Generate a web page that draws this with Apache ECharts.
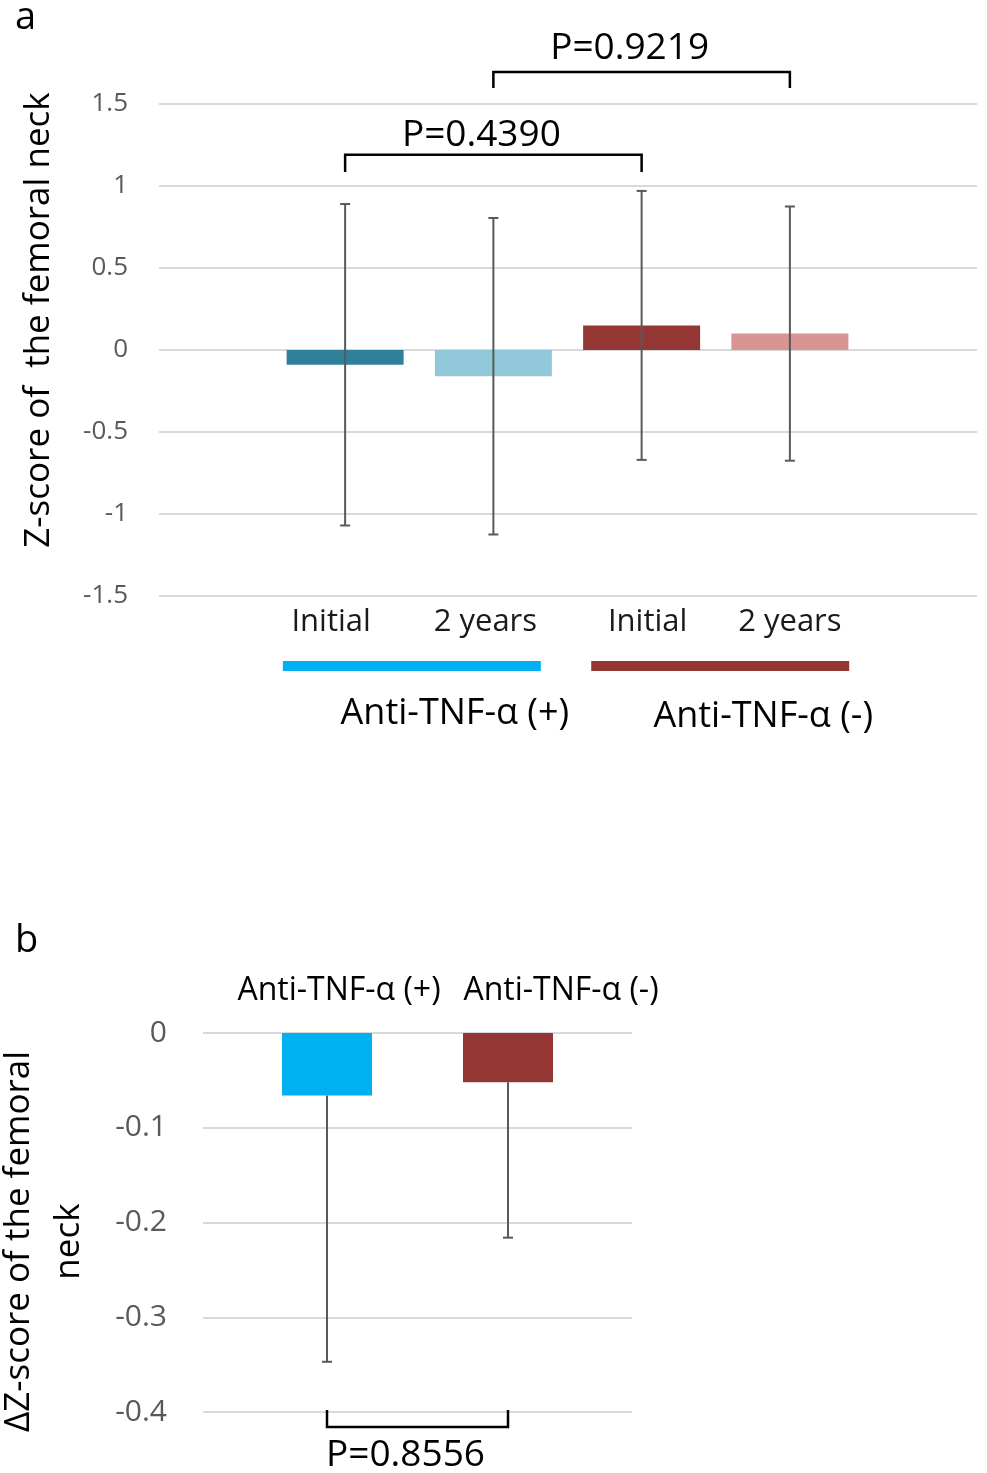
<!DOCTYPE html>
<html><head><meta charset="utf-8">
<script src="https://cdn.jsdelivr.net/npm/echarts@6/dist/echarts.min.js"></script>
<style>html,body{margin:0;padding:0;background:#fff}#c{width:987px;height:1473px}</style>
</head><body><div id="c"></div>
<script>
// ---------- data: panel a ----------
const zCategories = ['Initial', '2 years', 'Initial', '2 years'];
const zMeans = [-0.09, -0.16, 0.15, 0.10];
const zSD = [0.98, 0.965, 0.82, 0.775];
const zGroups = ['Anti-TNF-α (+)', 'Anti-TNF-α (-)'];
const zGroupSpans = [[0, 1], [2, 3]];
const zTests = [{ from: 0, to: 2, p: 'P=0.4390' }, { from: 1, to: 3, p: 'P=0.9219' }];
const zTicks = { min: -1.5, max: 1.5, step: 0.5 };
// ---------- data: panel b ----------
const dCategories = ['Anti-TNF-α (+)', 'Anti-TNF-α (-)'];
const dMeans = [-0.066, -0.052];
const dSD = [0.281, 0.164];
const dTests = [{ from: 0, to: 1, p: 'P=0.8556' }];
const dTicks = { min: -0.4, max: 0, step: 0.1 };

// ---------- styles ----------
const FONT = 'Open Sans';
const zColors = ['#2e8198', '#92c9da', '#943634', '#d99594'];
const dColors = ['#00b0f0', '#943634'];
const groupColors = ['#00b0f0', '#943634'];
const groupLineExt = [[-0.42, 0.32], [-0.34, 0.40]];
const zLabelPad = [[0, 28, 0, 0], [0, 16, 0, 0], [0, 0, 0, 12], [0, 0, 0, 0]];
const errColor = '#595959';
const gridColor = '#d9d9d9';
// bracket geometry in data units
const zBracketGeom = [{ bar: 1.19, tick: 1.085, text: 1.31, dx: -12 }, { bar: 1.695, tick: 1.598, text: 1.84, dx: -12 }];
const dBracketGeom = [{ bar: -0.4158, tick: -0.398, text: -0.4454, dx: -12 }];

const chart = echarts.init(document.getElementById('c'), null, { renderer: 'canvas' });

function errRender(showUpper) {
  return function (params, api) {
    const x = api.value(0), lo = api.value(1), hi = api.value(2);
    const a = api.coord([x, hi]), b = api.coord([x, lo]);
    const cap = 5;
    const ch = [
      { type: 'line', shape: { x1: a[0], y1: a[1], x2: b[0], y2: b[1] }, style: { stroke: errColor, lineWidth: 2 } },
      { type: 'line', shape: { x1: b[0] - cap, y1: b[1], x2: b[0] + cap, y2: b[1] }, style: { stroke: errColor, lineWidth: 2 } }
    ];
    if (showUpper) ch.push({ type: 'line', shape: { x1: a[0] - cap, y1: a[1], x2: a[0] + cap, y2: a[1] }, style: { stroke: errColor, lineWidth: 2 } });
    return { type: 'group', children: ch };
  };
}
function bracketRender(geoms, tests) {
  return function (params, api) {
    const t = tests[params.dataIndex], g = geoms[params.dataIndex];
    const l = api.coord([t.from, g.bar]), r = api.coord([t.to, g.bar]);
    const lt = api.coord([t.from, g.tick]);
    const ty = api.coord([t.from, g.text])[1];
    const st = { stroke: '#000', lineWidth: 2.5, fill: null };
    return { type: 'group', children: [
      { type: 'polyline', shape: { points: [[l[0], lt[1]], [l[0], l[1]], [r[0], r[1]], [r[0], lt[1]]] }, style: st },
      { type: 'text', x: (l[0] + r[0]) / 2 + g.dx, y: ty, style: { text: t.p, font: '37px "' + FONT + '"', fill: '#000', align: 'center', verticalAlign: 'middle' } }
    ] };
  };
}

const zRich = {};
zLabelPad.forEach((p, i) => { zRich['l' + i] = { padding: p, fontFamily: FONT, fontSize: 31, color: '#1a1a1a' }; });

const option = {
  animation: false,
  backgroundColor: '#fff',
  graphic: [
    { type: 'text', left: 15, top: -1, style: { text: 'a', font: '38px "' + FONT + '"', fill: '#000' } },
    { type: 'text', left: 15, top: 922, style: { text: 'b', font: '38px "' + FONT + '"', fill: '#000' } }
  ],
  grid: [
    { left: 159, width: 818, top: 104, height: 492, outerBoundsMode: 'none' },
    { left: 271, width: 593, top: 104, height: 492, outerBoundsMode: 'none' },
    { left: 203, width: 429, top: 1033, height: 379, outerBoundsMode: 'none' },
    { left: 236.5, width: 362, top: 1033, height: 379, outerBoundsMode: 'none' }
  ],
  xAxis: [
    { gridIndex: 0, type: 'category', data: [''], show: false },
    { gridIndex: 1, type: 'category', data: zCategories, axisLine: { show: false }, axisTick: { show: false },
      axisLabel: { interval: 0, hideOverlap: false, fontFamily: FONT, fontSize: 31, color: '#1a1a1a', margin: 11,
        formatter: (v, i) => '{l' + i + '|' + v + '}', rich: zRich } },
    { gridIndex: 2, type: 'category', data: [''], show: false },
    { gridIndex: 3, type: 'category', data: dCategories, position: 'top', axisLine: { show: false }, axisTick: { show: false },
      axisLabel: { interval: 0, hideOverlap: false, fontFamily: FONT, fontSize: 32, color: '#000', margin: 26,
        formatter: (v, i) => '{l' + i + '|' + v + '}',
        rich: { l0: { padding: [0, 0, 0, 24], fontFamily: FONT, fontSize: 32, color: '#000' }, l1: { padding: [0, 0, 0, 106], fontFamily: FONT, fontSize: 32, color: '#000' } } } }
  ],
  yAxis: [
    { gridIndex: 0, type: 'value', min: zTicks.min, max: zTicks.max, interval: zTicks.step,
      axisLine: { show: false }, axisTick: { show: false },
      axisLabel: { fontFamily: FONT, fontSize: 26, color: '#595959', margin: 31 },
      splitLine: { lineStyle: { color: gridColor, width: 2 } },
      name: 'Z-score of  the femoral neck', nameLocation: 'middle', nameRotate: 90, nameGap: 102,
      nameTextStyle: { fontFamily: FONT, fontSize: 35, color: '#000', padding: [0, 0, 0, 60] } },
    { gridIndex: 1, type: 'value', min: zTicks.min, max: zTicks.max, interval: zTicks.step, show: false, splitLine: { show: false } },
    { gridIndex: 2, type: 'value', min: dTicks.min, max: dTicks.max, interval: dTicks.step,
      axisLine: { show: false }, axisTick: { show: false },
      axisLabel: { fontFamily: FONT, fontSize: 30, color: '#595959', margin: 36 },
      splitLine: { lineStyle: { color: gridColor, width: 2 } },
      name: 'ΔZ-score of the femoral\nneck', nameLocation: 'middle', nameRotate: 90, nameGap: 109,
      nameTextStyle: { fontFamily: FONT, fontSize: 35, color: '#000', lineHeight: 50, align: 'center', padding: [0, 38, 0, 0] } },
    { gridIndex: 3, type: 'value', min: dTicks.min, max: dTicks.max, interval: dTicks.step, show: false, splitLine: { show: false } }
  ],
  series: [
    { type: 'bar', xAxisIndex: 1, yAxisIndex: 1, barWidth: 117,
      data: zMeans.map((v, i) => ({ value: v, itemStyle: { color: zColors[i] } })) },
    { type: 'custom', xAxisIndex: 1, yAxisIndex: 1, z: 5, renderItem: errRender(true),
      data: zMeans.map((m, i) => [i, m - zSD[i], m + zSD[i]]) },
    { type: 'custom', xAxisIndex: 1, yAxisIndex: 1, z: 5, clip: false, renderItem: bracketRender(zBracketGeom, zTests),
      data: zTests.map(t => [t.from, t.to]) },
    { type: 'custom', xAxisIndex: 1, yAxisIndex: 1, z: 5, clip: false,
      renderItem: function (params, api) {
        const i = params.dataIndex;
        const s0 = api.value(0), s1 = api.value(1);
        const p0 = api.coord([s0, zTicks.min]), p1 = api.coord([s1, zTicks.min]);
        const band = api.size([1, 0])[0];
        const x1 = p0[0] + groupLineExt[i][0] * band, x2 = p1[0] + groupLineExt[i][1] * band;
        return { type: 'group', children: [
          { type: 'rect', shape: { x: x1, y: p0[1] + 65, width: x2 - x1, height: 10 }, style: { fill: groupColors[i] } },
          { type: 'text', x: (x1 + x2) / 2 + 43, y: p0[1] + 118 + i * 3,
            style: { text: zGroups[i], font: '36px "' + FONT + '"', fill: '#000', align: 'center', verticalAlign: 'middle' } }
        ] };
      },
      data: zGroupSpans },
    { type: 'bar', xAxisIndex: 3, yAxisIndex: 3, barWidth: 90,
      data: dMeans.map((v, i) => ({ value: v, itemStyle: { color: dColors[i] } })) },
    { type: 'custom', xAxisIndex: 3, yAxisIndex: 3, z: 5, renderItem: errRender(false),
      data: dMeans.map((m, i) => [i, m - dSD[i], m]) },
    { type: 'custom', xAxisIndex: 3, yAxisIndex: 3, z: 5, clip: false, renderItem: bracketRender(dBracketGeom, dTests),
      data: dTests.map(t => [t.from, t.to]) }
  ]
};
chart.setOption(option);
</script></body></html>
